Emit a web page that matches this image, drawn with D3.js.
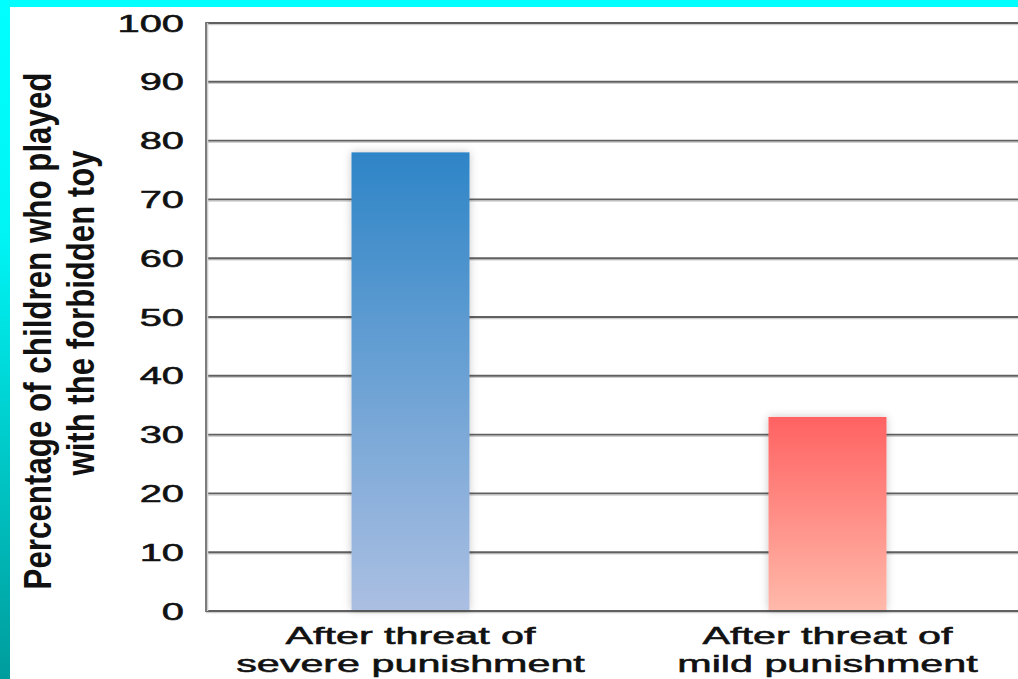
<!DOCTYPE html>
<html>
<head>
<meta charset="utf-8">
<script src="https://cdn.jsdelivr.net/npm/d3@7"></script>
<style>
  html, body { margin: 0; padding: 0; background: #fff; }
  svg { display: block; }
</style>
</head>
<body>
<script>
// Data
const categories = ["severe", "mild"];
const categoryLabels = [
  ["After threat of", "severe punishment"],
  ["After threat of", "mild punishment"]
];
const percentages = [78, 33];
const yTicks = [0, 10, 20, 30, 40, 50, 60, 70, 80, 90, 100];
const yTitle = ["Percentage of children who played", "with the forbidden toy"];

const W = 1018, H = 679;

const svg = d3.select("body").append("svg")
  .attr("width", W).attr("height", H);

const defs = svg.append("defs");

// Frame gradient on the left edge
const frameGrad = defs.append("linearGradient")
  .attr("id", "frameGrad").attr("x1", 0).attr("y1", 0).attr("x2", 0).attr("y2", 1);
frameGrad.append("stop").attr("offset", 0).attr("stop-color", "#00ffff");
frameGrad.append("stop").attr("offset", 0.35).attr("stop-color", "#00f4f4");
frameGrad.append("stop").attr("offset", 1).attr("stop-color", "#009c9c");

// Bar fills
const barGradients = [
  { id: "gBlue", top: "#2e85c7", bottom: "#abbfe2" },
  { id: "gRed", top: "#ff6262", bottom: "#ffb9aa" }
];
barGradients.forEach(g => {
  const lg = defs.append("linearGradient")
    .attr("id", g.id).attr("x1", 0).attr("y1", 0).attr("x2", 0).attr("y2", 1);
  lg.append("stop").attr("offset", 0).attr("stop-color", g.top);
  lg.append("stop").attr("offset", 1).attr("stop-color", g.bottom);
});

const shadow = defs.append("filter").attr("id", "barShadow")
  .attr("x", "-30%").attr("y", "-10%").attr("width", "160%").attr("height", "120%");
shadow.append("feDropShadow")
  .attr("dx", 0).attr("dy", 0).attr("stdDeviation", 4)
  .attr("flood-color", "#000").attr("flood-opacity", 0.22);

// Background frame
svg.append("rect").attr("x", 0).attr("y", 0).attr("width", W).attr("height", H).attr("fill", "#ffffff");
svg.append("rect").attr("x", 0).attr("y", 0).attr("width", W).attr("height", 7).attr("fill", "#00ffff");
svg.append("rect").attr("x", 0).attr("y", 0).attr("width", 10).attr("height", H).attr("fill", "url(#frameGrad)");

// Scales
const y = d3.scaleLinear().domain([0, 100]).range([611, 23]);
const x = d3.scaleBand().domain(categories).range([202, 1036])
  .paddingInner(0.717).paddingOuter(0.3585);

const axisX = 206;

// Gridlines
const grid = svg.append("g");
grid.selectAll("line.shade").data(yTicks).join("line")
  .attr("class", "shade")
  .attr("x1", axisX).attr("x2", W)
  .attr("y1", d => y(d) + 1.6).attr("y2", d => y(d) + 1.6)
  .attr("stroke", "#d0d0d0").attr("stroke-width", 1.4);
grid.selectAll("line.main").data(yTicks).join("line")
  .attr("class", "main")
  .attr("x1", axisX).attr("x2", W)
  .attr("y1", d => y(d)).attr("y2", d => y(d))
  .attr("stroke", "#606060").attr("stroke-width", 1.9);

// Vertical axis line
svg.append("line")
  .attr("x1", axisX + 1.6).attr("x2", axisX + 1.6)
  .attr("y1", y(100)).attr("y2", y(0))
  .attr("stroke", "#d0d0d0").attr("stroke-width", 1.4);
svg.append("line")
  .attr("x1", axisX).attr("x2", axisX)
  .attr("y1", y(100) - 0.9).attr("y2", y(0) + 0.9)
  .attr("stroke", "#777").attr("stroke-width", 1.9);

// Bars
svg.append("g").selectAll("rect").data(categories).join("rect")
  .attr("x", d => x(d))
  .attr("width", x.bandwidth())
  .attr("y", (d, i) => y(percentages[i]))
  .attr("height", (d, i) => y(0) - y(percentages[i]) - 1)
  .attr("fill", (d, i) => `url(#${barGradients[i].id})`)
  .attr("filter", "url(#barShadow)");

// Y tick labels
const tickFont = "'Liberation Sans', Arial, Helvetica, sans-serif";
svg.append("g").selectAll("text").data(yTicks).join("text")
  .attr("transform", d => `translate(184, ${y(d)}) scale(1.66, 1)`)
  .attr("text-anchor", "end")
  .attr("dy", "0.355em")
  .attr("font-family", tickFont)
  .attr("font-size", 24)
  .attr("fill", "#111")
  .attr("stroke", "#111")
  .attr("stroke-width", 0.55)
  .text(d => d);

// Category labels
const catG = svg.append("g").selectAll("g").data(categories).join("g")
  .attr("transform", d => `translate(${x(d) + x.bandwidth() / 2}, 0)`);
catG.each(function(d, i) {
  const g = d3.select(this);
  categoryLabels[i].forEach((line, j) => {
    g.append("text")
      .attr("transform", `translate(0, ${644 + j * 28}) scale(1.72, 1)`)
      .attr("text-anchor", "middle")
      .attr("font-family", tickFont)
      .attr("font-size", 24)
      .attr("fill", "#111")
      .attr("stroke", "#111")
      .attr("stroke-width", 0.55)
      .text(line);
  });
});

// Y axis title
const titleLengths = [517, 325];
const titleCenters = [331, 313];
yTitle.forEach((line, j) => {
  svg.append("text")
    .attr("transform", `translate(${51 + j * 43}, ${titleCenters[j]}) rotate(-90)`)
    .attr("text-anchor", "middle")
    .attr("font-family", "'Liberation Sans Narrow', 'Liberation Sans', Arial, sans-serif")
    .attr("font-weight", "bold")
    .attr("font-size", 38)
    .attr("textLength", titleLengths[j])
    .attr("lengthAdjust", "spacingAndGlyphs")
    .attr("fill", "#111")
    .text(line);
});
</script>
</body>
</html>
